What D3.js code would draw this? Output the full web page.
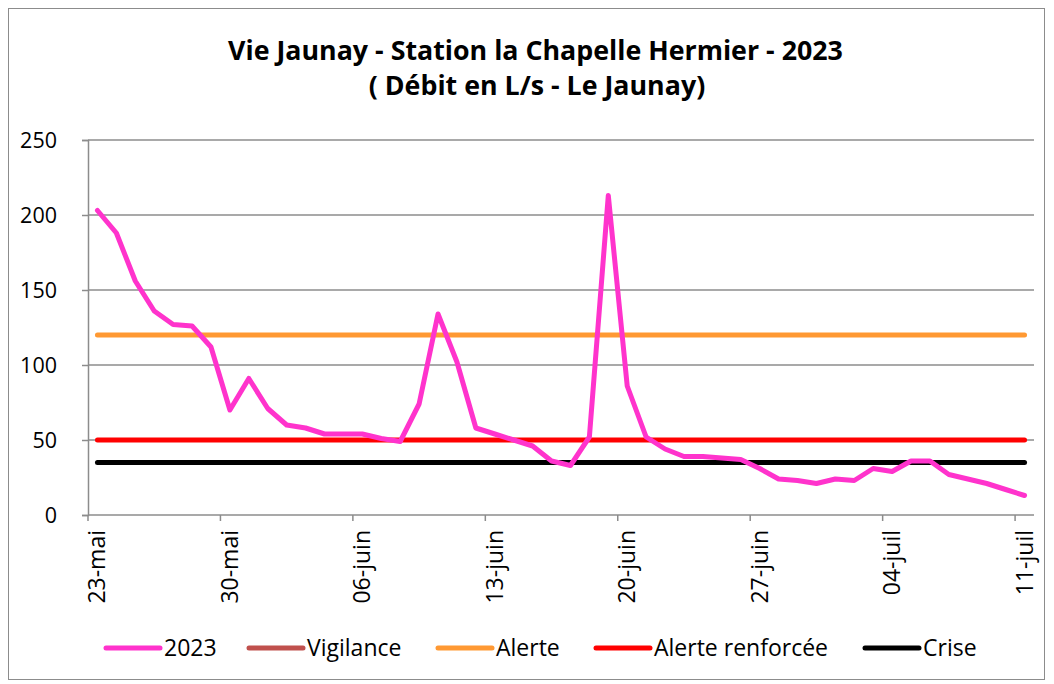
<!DOCTYPE html>
<html><head><meta charset="utf-8">
<script src="https://cdn.jsdelivr.net/npm/d3@7/dist/d3.min.js"></script>
<style>body{margin:0;background:#fff}svg{display:block}text{font-family:"Open Sans",Lato,sans-serif}</style>
</head><body><svg id="c" width="1054" height="684"></svg>
<script>
const startDate = "2023-05-23";
const nDays = 50;
const tickLabels = ["23-mai","30-mai","06-juin","13-juin","20-juin","27-juin","04-juil","11-juil"];
const flow2023 = [203,188,156,136,127,126,112,70,91,71,60,58,54,54,54,51,49,74,134,102,58,54,50,46,36,33,52,213,86,52,44,39,39,38,37,31,24,23,21,24,23,31,29,36,36,27,24,21,17,13];
const vigilance = [];
const alerte = 120;
const alerteRenforcee = 50;
const crise = 35;
const yTicks = [0,50,100,150,200,250];
const seriesNames = ["2023","Vigilance","Alerte","Alerte renforcée","Crise"];
const seriesColors = ["#FF33CC","#C0504D","#FF9933","#FF0000","#000000"];

const svg = d3.select("#c");
const parse = d3.timeParse("%Y-%m-%d");
const d0 = parse(startDate);
const days = d3.range(nDays).map(i => d3.timeDay.offset(d0, i));

const L = 88, R = 1034, T = 140, B = 515;
const x = d3.scaleBand().domain(days).range([L, R]).padding(0);
const y = d3.scaleLinear().domain([0, 250]).range([B, T]);
const cx = d => x(d) + x.bandwidth()/2;

function fitWidth(sel, w) {
  const n = sel.node();
  const fs = parseFloat(sel.attr("font-size"));
  const cur = n.getComputedTextLength();
  if (cur > 0) sel.attr("font-size", (fs * w / cur).toFixed(2));
}

// border
svg.append("rect").attr("x",8.5).attr("y",8.5).attr("width",1036).attr("height",671)
  .attr("fill","#fff").attr("stroke","#8c8c8c").attr("stroke-width",1);

// title
const t1 = svg.append("text").attr("x",535.5).attr("y",60).attr("text-anchor","middle")
  .attr("font-weight","bold").attr("font-size",25).attr("fill","#000")
  .text("Vie Jaunay - Station la Chapelle Hermier - 2023");
fitWidth(t1, 615);
const t2 = svg.append("text").attr("x",537).attr("y",95).attr("text-anchor","middle")
  .attr("font-weight","bold").attr("font-size",t1.attr("font-size")).attr("fill","#000")
  .text("( Débit en L/s - Le Jaunay)");

// gridlines
svg.append("g").selectAll("line").data(yTicks.filter(v=>v>0)).join("line")
  .attr("x1",L).attr("x2",R).attr("y1",d=>y(d)).attr("y2",d=>y(d))
  .attr("stroke","#8c8c8c").attr("stroke-width",1.5);

// y axis
const ya = svg.append("g").attr("transform",`translate(${L},0)`)
  .call(d3.axisLeft(y).tickValues(yTicks).tickSize(6).tickPadding(25));
ya.select(".domain").attr("stroke","#8c8c8c").attr("stroke-width",1.5);
ya.selectAll(".tick line").attr("stroke","#8c8c8c").attr("stroke-width",1.5);
ya.selectAll(".tick text").attr("font-size",21.5).attr("fill","#000")
  .attr("font-family","'Open Sans'").attr("dy","0.36em");

// x axis
const tickDays = days.filter((d,i)=>i%7===0);
const xa = svg.append("g").attr("transform",`translate(0,${B})`);
xa.append("line").attr("x1",L).attr("x2",R).attr("y1",0).attr("y2",0)
  .attr("stroke","#8c8c8c").attr("stroke-width",1.5);
xa.selectAll("line.tk").data(tickDays).join("line").attr("class","tk")
  .attr("x1",d=>x(d)).attr("x2",d=>x(d)).attr("y1",0).attr("y2",6)
  .attr("stroke","#8c8c8c").attr("stroke-width",1.5);
xa.selectAll("text").data(tickDays).join("text")
  .attr("transform",d=>`translate(${cx(d)+8},15) rotate(-90)`)
  .attr("text-anchor","end").attr("font-size",23).attr("fill","#000")
  .text((d,i)=>tickLabels[i]);

// threshold lines
const thresholds = [[alerte,2],[alerteRenforcee,3],[crise,4]];
svg.append("g").selectAll("line").data(thresholds).join("line")
  .attr("x1",cx(days[0])).attr("x2",cx(days[nDays-1]))
  .attr("y1",d=>y(d[0])).attr("y2",d=>y(d[0]))
  .attr("stroke",d=>seriesColors[d[1]]).attr("stroke-width",5).attr("stroke-linecap","round");

// vigilance (no data)
if (vigilance.length) {
  svg.append("path").datum(vigilance).attr("fill","none").attr("stroke",seriesColors[1]).attr("stroke-width",5)
    .attr("d",d3.line().x((d,i)=>cx(days[i])).y(d=>y(d)));
}

// 2023 series
svg.append("path").datum(flow2023).attr("fill","none")
  .attr("stroke",seriesColors[0]).attr("stroke-width",5)
  .attr("stroke-linejoin","round").attr("stroke-linecap","round")
  .attr("d",d3.line().x((d,i)=>cx(days[i])).y(d=>y(d)));

// legend
const legX = [106,249,438,596,865];
const lg = svg.append("g").selectAll("g").data(seriesNames).join("g")
  .attr("transform",(d,i)=>`translate(${legX[i]},648)`);
lg.append("line").attr("x1",0).attr("x2",54).attr("y1",0).attr("y2",0)
  .attr("stroke",(d,i)=>seriesColors[i]).attr("stroke-width",5).attr("stroke-linecap","round");
lg.append("text").attr("x",58).attr("y",8).attr("font-size",23).attr("fill","#000").text(d=>d);
</script></body></html>
